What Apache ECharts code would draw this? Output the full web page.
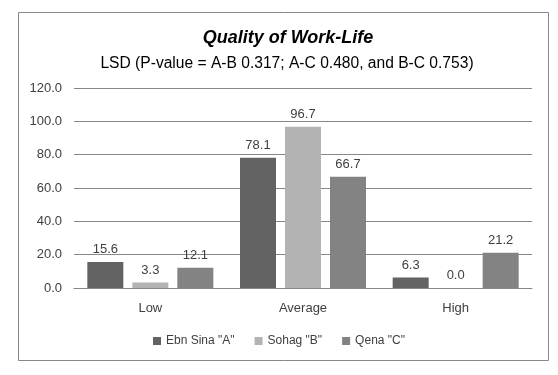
<!DOCTYPE html>
<html><head><meta charset="utf-8">
<script src="https://cdn.jsdelivr.net/npm/echarts@6/dist/echarts.min.js"></script>
<style>html,body{margin:0;padding:0;background:#fff}#c{width:558px;height:375px}</style>
</head><body><div id="c"></div>
<script>
const categories = ['Low', 'Average', 'High'];
const seriesNames = ['Ebn Sina "A"', 'Sohag "B"', 'Qena "C"'];
const ebnSina = [15.6, 78.1, 6.3];
const sohag = [3.3, 96.7, 0.0];
const qena = [12.1, 66.7, 21.2];
const yTicks = [0, 20, 40, 60, 80, 100, 120];
const colors = ['#636363', '#b3b3b3', '#838383'];
const FONT = '"Liberation Sans", Arial, sans-serif';

const chart = echarts.init(document.getElementById('c'), null, {renderer: 'canvas'});
const mk = (name, data, color) => ({
  name, type: 'bar', data, barWidth: 36, barGap: '25%',
  itemStyle: {color},
  label: {show: true, position: 'top', distance: 6, color: '#404040', fontSize: 13, fontFamily: FONT,
    formatter: p => p.value.toFixed(1)}
});
chart.setOption({
  animation: false,
  backgroundColor: '#fff',
  graphic: [{type: 'rect', shape: {x: 18.5, y: 12.5, width: 530, height: 348},
    style: {fill: 'none', stroke: '#878787', lineWidth: 1}, silent: true}],
  title: [
    {text: 'Quality of Work-Life', left: 283, textAlign: 'center', top: 24,
      textStyle: {fontFamily: FONT, fontSize: 18, fontWeight: 'bold', fontStyle: 'italic', color: '#000'}},
    {text: 'LSD (P-value = A-B 0.317; A-C 0.480, and B-C 0.753)', left: 282, textAlign: 'center', top: 51,
      textStyle: {fontFamily: FONT, fontSize: 15.6, fontWeight: 'normal', color: '#000'}}
  ],
  legend: {data: seriesNames, bottom: 23, left: 'center', itemWidth: 8, itemHeight: 8, itemGap: 20,
    icon: 'rect', textStyle: {fontFamily: FONT, fontSize: 12, color: '#404040'}},
  grid: {left: 74, right: 26, top: 88, bottom: 87, containLabel: false},
  xAxis: {type: 'category', data: categories,
    axisLine: {show: true, lineStyle: {color: '#878787'}}, axisTick: {show: false},
    axisLabel: {fontFamily: FONT, fontSize: 13, color: '#404040', margin: 14}},
  yAxis: {type: 'value', min: yTicks[0], max: yTicks[yTicks.length - 1], interval: 20,
    axisLine: {show: false}, axisTick: {show: false},
    splitLine: {lineStyle: {color: '#878787', width: 1}},
    axisLabel: {fontFamily: FONT, fontSize: 13, color: '#404040', margin: 12, formatter: v => v.toFixed(1)}},
  series: [mk(seriesNames[0], ebnSina, colors[0]), mk(seriesNames[1], sohag, colors[1]), mk(seriesNames[2], qena, colors[2])]
});
</script></body></html>
